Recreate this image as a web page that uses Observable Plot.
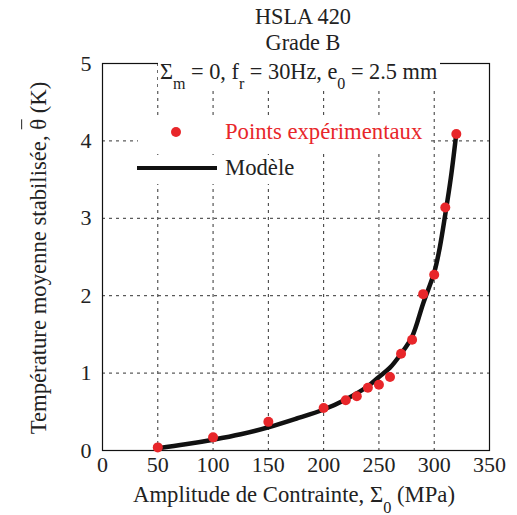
<!DOCTYPE html>
<html><head><meta charset="utf-8">
<script src="https://cdn.jsdelivr.net/npm/d3@7"></script>
<script src="https://cdn.jsdelivr.net/npm/@observablehq/plot@0.6"></script>
<style>
body{margin:0;background:#fff;}
#wrap{position:relative;width:517px;height:515px;font-family:"Liberation Serif","Times New Roman",serif;color:#222;overflow:hidden;}
#wrap svg{position:absolute;left:0;top:0;}
.ov{position:absolute;white-space:nowrap;line-height:1;}
.sb{font-size:0.72em;position:relative;top:0.65em;}
</style></head><body>
<div id="wrap"></div>
<script>
// Experimental points (stress amplitude MPa, stabilised mean temperature K)
const expStress = [50, 100, 150, 200, 220, 230, 240, 250, 260, 270, 280, 290, 300, 310, 320];
const expTemp   = [0.04, 0.17, 0.37, 0.55, 0.65, 0.70, 0.81, 0.85, 0.95, 1.25, 1.43, 2.02, 2.27, 3.14, 4.09];
// Model curve
const modelStress = [50, 75, 100, 125, 150, 175, 200, 220, 240, 250, 260, 270, 280, 290, 300, 305, 310, 315, 320];
const modelTemp   = [0.03, 0.08, 0.14, 0.21, 0.30, 0.41, 0.53, 0.66, 0.83, 0.95, 1.07, 1.25, 1.47, 1.90, 2.30, 2.62, 3.05, 3.52, 4.10];
const xTicks = [0, 50, 100, 150, 200, 250, 300, 350];
const yTicks = [0, 1, 2, 3, 4, 5];
const xGrid = [50, 100, 150, 200, 250, 300];
const yGrid = [1, 2, 3, 4];

const points = expStress.map((s, i) => ({s, t: expTemp[i]}));
const model = modelStress.map((s, i) => ({s, t: modelTemp[i]}));

const plot = Plot.plot({
  width: 517, height: 515,
  marginLeft: 102, marginRight: 28, marginTop: 63, marginBottom: 65,
  style: {fontFamily: '"Liberation Serif","Times New Roman",serif', fontSize: "22px", color: "#222", background: "transparent"},
  x: {domain: [0, 350]},
  y: {domain: [0, 5]},
  marks: [
    Plot.ruleX(xGrid, {stroke: "#333", strokeWidth: 1, strokeDasharray: "3,4"}),
    Plot.ruleY(yGrid, {stroke: "#333", strokeWidth: 1, strokeDasharray: "3,4"}),
    Plot.frame({stroke: "#111", strokeWidth: 1.2}),
    Plot.axisX({ticks: xTicks, tickSize: 0, tickPadding: 6, label: null, tickFormat: d => String(d)}),
    Plot.axisY({ticks: yTicks, tickSize: 0, tickPadding: 11, label: null, tickFormat: d => String(d)}),
    Plot.line(model, {x: "s", y: "t", curve: "catmull-rom", stroke: "#111", strokeWidth: 4.5}),
    Plot.dot(points, {x: "s", y: "t", r: 5, fill: "#e8262a", stroke: "none"})
  ]
});
const wrap = document.getElementById("wrap");
wrap.appendChild(plot);

function ov(html, css) {
  const d = document.createElement("div");
  d.className = "ov";
  d.innerHTML = html;
  d.style.cssText += css;
  wrap.appendChild(d);
  return d;
}
// titles
ov("HSLA 420", "left:303px;top:17px;transform:translate(-50%,-50%);font-size:22.3px;");
ov("Grade B", "left:303px;top:43px;transform:translate(-50%,-50%);font-size:22.3px;");
// conditions line
ov('&Sigma;<span class="sb">m</span> = 0, f<span class="sb">r</span> = 30Hz, e<span class="sb">0</span> = 2.5 mm',
   "left:158px;top:61px;font-size:22.3px;background:#fff;padding:0 3px 8px 2px;");
// legend
ov('<span style="display:inline-block;width:10px;height:10px;border-radius:50%;background:#e8262a;margin:0 44px 0 33px;vertical-align:2px"></span>Points expérimentaux',
   "left:138px;top:119px;font-size:22.7px;color:#e8262a;background:#fff;padding:2px 5px 6px 0;");
ov('<span style="display:inline-block;width:80px;height:4.5px;background:#111;margin-right:8px;vertical-align:5px"></span>Modèle',
   "left:137px;top:155px;font-size:22.7px;background:#fff;padding:2px 4px 4px 0;");
// axis labels
ov('Amplitude de Contrainte, &Sigma;<span class="sb">0</span> (MPa)', "left:294px;top:495px;transform:translate(-50%,-50%);font-size:22.7px;");
ov('Température moyenne stabilisée, <span style="display:inline-block;border-top:1.5px solid #222;padding-top:6px;line-height:1">θ</span> (K)',
   "left:36px;top:258px;transform:translate(-50%,-50%) rotate(-90deg);font-size:22.7px;");
</script>
</body></html>
